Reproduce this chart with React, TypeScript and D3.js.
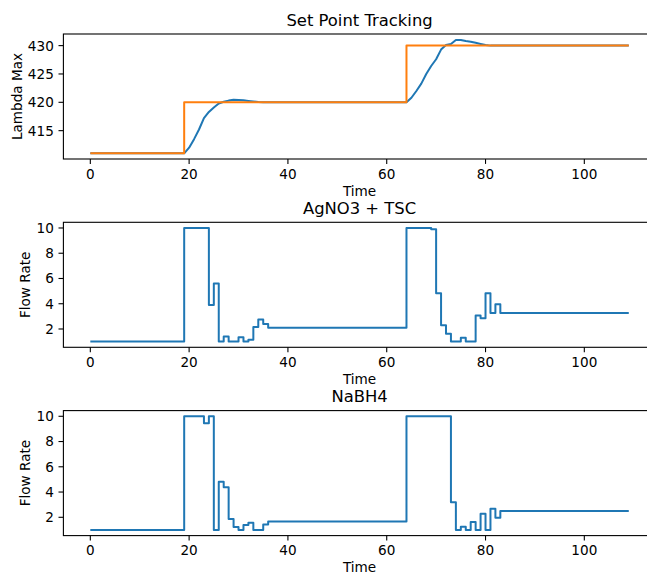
import React from "react";
import * as d3 from "d3";

// Set point tracking
const lambdaTime = [0, 19, 20, 21, 22, 23, 24, 25, 26, 27, 28, 29, 30, 31, 32, 33, 34, 35, 64, 65, 66, 67, 68, 69, 70, 71, 72, 73, 74, 75, 76, 77, 78, 79, 80, 81, 109];
const lambdaMax = [411.0, 411.0, 412.0, 413.5, 415.2, 417.2, 418.3, 419.1, 419.8, 420.1, 420.3, 420.45, 420.4, 420.35, 420.25, 420.15, 420.05, 420.0, 420.0, 420.8, 422.0, 423.3, 425.0, 426.4, 427.6, 429.3, 430.1, 430.3, 431.0, 431.0, 430.8, 430.7, 430.5, 430.3, 430.1, 430.0, 430.0];
const setTime = [0, 19, 64, 109];
const setPoint = [411, 420, 430, 430];

// AgNO3 + TSC flow rate (step changes)
const agTime = [0, 19, 24, 25, 26, 27, 28, 30, 31, 32, 33, 34, 35, 36, 64, 69, 70, 71, 72, 73, 75, 76, 78, 79, 80, 81, 82, 83, 109];
const agRate = [1, 10, 3.9, 5.6, 1, 1.4, 1, 1.35, 1, 1.15, 2.15, 2.75, 2.4, 2.1, 10, 9.9, 4.83, 2.3, 1.63, 1.0, 1.3, 1.0, 3.06, 2.85, 4.83, 3.27, 3.96, 3.27, 3.27];

// NaBH4 flow rate (step changes)
const naTime = [0, 19, 23, 24, 25, 26, 27, 28, 29, 30, 31, 32, 33, 35, 36, 64, 73, 74, 75, 76, 77, 78, 79, 80, 81, 82, 83, 109];
const naRate = [1, 10, 9.44, 10, 1, 4.82, 4.38, 1.86, 1.23, 1.0, 1.38, 1.57, 1.0, 1.43, 1.67, 10, 3.2, 1.0, 1.25, 1.0, 1.62, 1.0, 2.28, 1.0, 2.67, 1.96, 2.49, 2.49];

const xTicks = [0, 20, 40, 60, 80, 100];
const lambdaTicks = [415, 420, 425, 430];
const flowTicks = [2, 4, 6, 8, 10];

const W = 647;
const H = 574;
const LEFT = 63.4;
const RIGHT = 655.7;
const FONT = "DejaVu Sans, sans-serif";
const BLUE = "#1f77b4";
const ORANGE = "#ff7f0e";

type Series = { t: number[]; v: number[]; color: string; step: boolean };

function Panel(props: {
  top: number;
  height: number;
  yDomain: [number, number];
  yTicks: number[];
  title: string;
  ylabel: string;
  ylabelX: number;
  series: Series[];
}) {
  const { top, height, yDomain, yTicks, title, ylabel, ylabelX, series } = props;
  const bottom = top + height;
  const x = d3.scaleLinear().domain([-5.45, 114.45]).range([LEFT, RIGHT]);
  const y = d3.scaleLinear().domain(yDomain).range([bottom, top]);
  const fs = 13.6;
  return (
    <g>
      {series.map((s, i) => {
        const line = d3
          .line<number>()
          .x((_, k) => x(s.t[k]))
          .y((d) => y(d))
          .curve(s.step ? d3.curveStepAfter : d3.curveLinear);
        return (
          <path
            key={i}
            d={line(s.v) || ""}
            fill="none"
            stroke={s.color}
            strokeWidth={2}
            strokeLinejoin="round"
          />
        );
      })}
      <rect
        x={LEFT}
        y={top}
        width={RIGHT - LEFT}
        height={height}
        fill="none"
        stroke="#000"
        strokeWidth={1.1}
      />
      {xTicks.map((t) => (
        <g key={"x" + t}>
          <line x1={x(t)} x2={x(t)} y1={bottom} y2={bottom + 4.9} stroke="#000" strokeWidth={1.1} />
          <text
            x={x(t)}
            y={bottom + 19.5}
            fontSize={fs}
            fontFamily={FONT}
            textAnchor="middle"
            fill="#000"
          >
            {t}
          </text>
        </g>
      ))}
      {yTicks.map((t) => (
        <g key={"y" + t}>
          <line x1={LEFT - 4.9} x2={LEFT} y1={y(t)} y2={y(t)} stroke="#000" strokeWidth={1.1} />
          <text
            x={LEFT - 9.6}
            y={y(t) + 4.9}
            fontSize={fs}
            fontFamily={FONT}
            textAnchor="end"
            fill="#000"
          >
            {t}
          </text>
        </g>
      ))}
      <text
        x={(LEFT + RIGHT) / 2}
        y={top - 8.2}
        fontSize={16.4}
        fontFamily={FONT}
        textAnchor="middle"
        fill="#000"
      >
        {title}
      </text>
      <text
        x={(LEFT + RIGHT) / 2}
        y={bottom + 36.5}
        fontSize={fs}
        fontFamily={FONT}
        textAnchor="middle"
        fill="#000"
      >
        Time
      </text>
      <text
        transform={`translate(${ylabelX},${(top + bottom) / 2}) rotate(-90)`}
        fontSize={fs}
        fontFamily={FONT}
        textAnchor="middle"
        fill="#000"
      >
        {ylabel}
      </text>
    </g>
  );
}

export default function App() {
  return (
    <div style={{ position: "absolute", left: 0, top: 0, width: W, height: H, overflow: "hidden", background: "#fff" }}>
      <svg width={W} height={H} style={{ display: "block" }}>
        <rect x={0} y={0} width={W} height={H} fill="#fff" />
        <Panel
          top={34}
          height={125}
          yDomain={[410.0, 432.05]}
          yTicks={lambdaTicks}
          title="Set Point Tracking"
          ylabel="Lambda Max"
          ylabelX={22}
          series={[
            { t: lambdaTime, v: lambdaMax, color: BLUE, step: false },
            { t: setTime, v: setPoint, color: ORANGE, step: true },
          ]}
        />
        <Panel
          top={222.3}
          height={125}
          yDomain={[0.55, 10.45]}
          yTicks={flowTicks}
          title="AgNO3 + TSC"
          ylabel="Flow Rate"
          ylabelX={30}
          series={[{ t: agTime, v: agRate, color: BLUE, step: true }]}
        />
        <Panel
          top={410.6}
          height={125}
          yDomain={[0.55, 10.45]}
          yTicks={flowTicks}
          title="NaBH4"
          ylabel="Flow Rate"
          ylabelX={30}
          series={[{ t: naTime, v: naRate, color: BLUE, step: true }]}
        />
      </svg>
    </div>
  );
}
